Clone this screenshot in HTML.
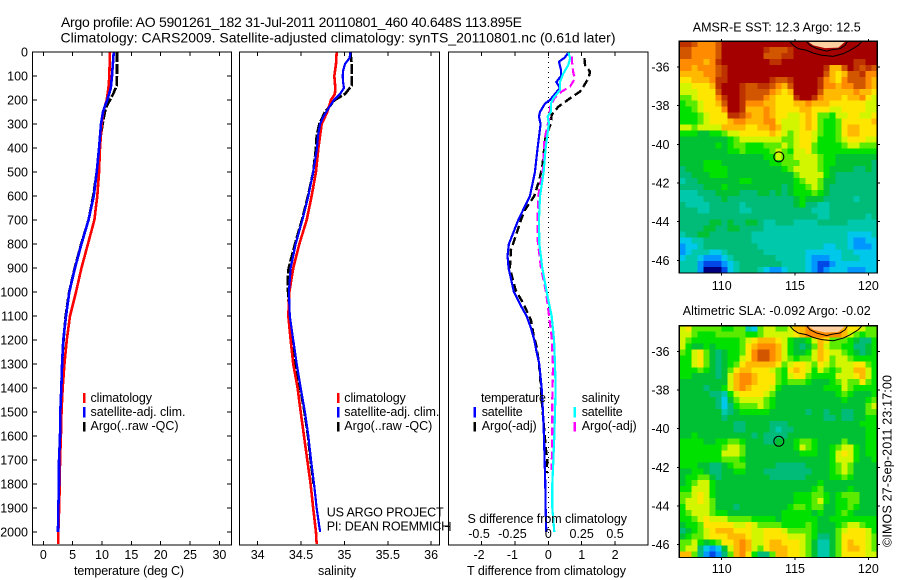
<!DOCTYPE html>
<html>
<head>
<meta charset="utf-8">
<title>Argo profile</title>
<style>
html,body{margin:0;padding:0;background:#fff;}
svg{display:block;}
text{font-family:"Liberation Sans",sans-serif;font-size:12.5px;fill:#000;}
.ttl{font-size:14px;}
</style>
</head>
<body>
<svg id="chart" xmlns="http://www.w3.org/2000/svg" width="900" height="580" viewBox="0 0 900 580">
<rect x="0" y="0" width="900" height="580" fill="#fff"/>
<text class="ttl" x="61" y="27" textLength="461" lengthAdjust="spacing">Argo profile: AO 5901261_182 31-Jul-2011 20110801_460 40.648S 113.895E</text>
<text class="ttl" x="60.5" y="42.5" textLength="555" lengthAdjust="spacing">Climatology: CARS2009. Satellite-adjusted climatology: synTS_20110801.nc (0.61d later)</text>

<g id="mapLayer"></g>
<g id="panelLayer"></g>

<text x="74" y="575" textLength="110" lengthAdjust="spacing">temperature (deg C)</text>
<text x="318" y="575" textLength="38" lengthAdjust="spacing">salinity</text>
<text x="467" y="575" textLength="159" lengthAdjust="spacing">T difference from climatology</text>
<text x="467.5" y="523" textLength="159.5" lengthAdjust="spacing">S difference from climatology</text>

<rect x="83" y="393" width="2.5" height="10" fill="#f00"/>
<rect x="83" y="407" width="2.5" height="10.5" fill="#00f"/>
<rect x="83" y="422" width="2.5" height="9.5" fill="#000"/>
<text x="90.5" y="402" textLength="61.5" lengthAdjust="spacing">climatology</text>
<text x="90.5" y="416" textLength="95" lengthAdjust="spacing">satellite-adj. clim.</text>
<text x="90.5" y="430" textLength="88" lengthAdjust="spacing">Argo(..raw -QC)</text>

<rect x="337" y="393" width="2.5" height="10" fill="#f00"/>
<rect x="337" y="407" width="2.5" height="10.5" fill="#00f"/>
<rect x="337" y="422" width="2.5" height="9.5" fill="#000"/>
<text x="344.3" y="402" textLength="61.5" lengthAdjust="spacing">climatology</text>
<text x="344.3" y="416" textLength="95" lengthAdjust="spacing">satellite-adj. clim.</text>
<text x="344.3" y="430" textLength="88" lengthAdjust="spacing">Argo(..raw -QC)</text>

<text x="481" y="402" textLength="65" lengthAdjust="spacing">temperature</text>
<rect x="473.5" y="407" width="2.5" height="10.5" fill="#00f"/>
<rect x="473.5" y="422" width="2.5" height="9.5" fill="#000"/>
<text x="481.7" y="416" textLength="41" lengthAdjust="spacing">satellite</text>
<text x="481.7" y="430" textLength="55" lengthAdjust="spacing">Argo(-adj)</text>
<text x="581.7" y="402" textLength="38" lengthAdjust="spacing">salinity</text>
<rect x="573.5" y="407" width="2.5" height="10.5" fill="#0ff"/>
<rect x="573.5" y="422" width="2.5" height="9.5" fill="#f0f"/>
<text x="581.7" y="416" textLength="41" lengthAdjust="spacing">satellite</text>
<text x="581.7" y="430" textLength="55" lengthAdjust="spacing">Argo(-adj)</text>

<text x="326.7" y="516.7" textLength="117" lengthAdjust="spacing">US ARGO PROJECT</text>
<text x="326.7" y="530.7" textLength="123.5" lengthAdjust="spacing">PI: DEAN ROEMMICH</text>

<text x="692.7" y="31.7" textLength="168" lengthAdjust="spacing">AMSR-E SST: 12.3 Argo: 12.5</text>
<text x="682.7" y="315" textLength="188" lengthAdjust="spacing">Altimetric SLA: -0.092 Argo: -0.02</text>
<text transform="translate(891.7 547) rotate(-90)" x="0" y="0" textLength="172" lengthAdjust="spacing">©IMOS 27-Sep-2011 23:17:00</text>
</svg>

<script>
// ---------- profile data (depth in metres, temperature in deg C, salinity in psu) ----------
var tempTicks = [0,5,10,15,20,25,30];
var salTicks = [34,34.5,35,35.5,36];
var depthTicks = [0,100,200,300,400,500,600,700,800,900,1000,1100,1200,1300,1400,1500,1600,1700,1800,1900,2000];
var diffTTicks = [-2,-1,0,1,2];
var diffSTickLabels = ['-0.5','-0.25','0','0.25','0.5'];
var diffSTicks = [-0.5,-0.25,0,0.25,0.5];

var climTempDepths = [0,50,100,150,200,250,300,400,500,600,700,800,900,1000,1100,1200,1300,1400,1500,1600,1700,1800,1900,2000,2050];
var climTemp = [11.36,11.3,11.25,11.1,10.8,10.2,9.95,9.66,9.5,9.2,8.7,7.6,6.5,5.57,4.55,4.0,3.6,3.3,3.1,3.0,2.85,2.8,2.7,2.56,2.56];
var satTempDepths = [0,50,100,150,200,225,250,300,400,500,600,700,800,900,1000,1100,1200,1300,1400,1500,1600,1700,1800,1900,2000];
var satTemp = [12.0,11.85,11.7,11.5,10.9,10.5,10.17,9.83,9.5,9.1,8.6,7.7,6.5,5.4,4.43,3.87,3.4,3.2,3.07,2.9,2.85,2.68,2.68,2.56,2.5];
var argoTempDepths = [0,50,100,140,175,200,225,250,300,400,500,600,700,800,900,1000,1100,1200,1300,1400,1500,1600];
var argoTemp = [12.55,12.55,12.55,12.5,11.9,11.36,10.8,10.5,10.1,9.5,9.1,8.5,7.7,6.45,5.35,4.4,3.8,3.45,3.2,3.05,2.95,2.87];

var climSalDepths = [0,50,100,150,175,200,250,300,400,500,600,700,800,900,1000,1100,1200,1300,1400,1500,1600,1700,1800,1900,2000,2050];
var climSal = [34.911,34.903,34.884,34.895,34.89,34.845,34.803,34.738,34.70,34.672,34.622,34.565,34.48,34.41,34.365,34.353,34.38,34.41,34.46,34.496,34.534,34.572,34.61,34.64,34.672,34.68];
var satSalDepths = [0,25,50,75,100,125,150,175,200,225,250,275,300,350,400,500,600,700,800,900,1000,1100,1200,1300,1400,1500,1600,1700,1800,1900,2000];
var satSal = [35.07,35.06,35.007,34.987,34.98,34.985,34.995,34.95,34.88,34.834,34.79,34.75,34.72,34.695,34.684,34.64,34.584,34.515,34.438,34.38,34.36,34.37,34.41,34.45,34.496,34.545,34.584,34.615,34.65,34.68,34.72];
var argoSalDepths = [0,50,100,140,175,200,250,300,350,400,500,600,700,800,900,950,1000,1100,1200,1300,1400,1500,1600,1700,1800];
var argoSal = [35.07,35.084,35.087,35.084,35.007,34.89,34.776,34.71,34.68,34.672,34.64,34.58,34.51,34.43,34.357,34.345,34.35,34.365,34.40,34.44,34.49,34.54,34.58,34.61,34.645];

var diffSatTDepths = [0,25,40,75,100,125,150,175,200,215,250,270,300,400,500,600,700,800,850,900,1000,1050,1100,1150,1200,1250,1300,1400,1500,1600,1700,1800,1900,2000];
var diffSatT = [0.62,0.48,0.32,0.38,0.38,0.24,0.35,0.20,0.05,-0.10,-0.25,-0.28,-0.23,-0.32,-0.40,-0.55,-0.90,-1.18,-1.22,-1.19,-1.03,-0.85,-0.65,-0.52,-0.42,-0.35,-0.27,-0.20,-0.16,-0.13,-0.11,-0.09,-0.08,-0.06];
var diffArgoTDepths = [26,54,82,110,144,165,193,228,262,297,353,400,478,533,600,658,700,769,825,900,950,992,1047,1117,1172,1228,1297,1381,1464,1561,1644,1700,1755];
var diffArgoT = [1.08,1.10,1.25,1.20,1.05,0.95,0.65,0.30,0.10,0.08,-0.08,-0.12,-0.18,-0.27,-0.42,-0.70,-0.82,-0.98,-1.12,-1.15,-1.06,-0.98,-0.75,-0.52,-0.45,-0.35,-0.28,-0.23,-0.19,-0.13,-0.08,-0.03,-0.05];
var diffSatSDepths = [0,26,54,89,124,158,193,214,249,269,297,400,500,600,700,800,900,1000,1047,1100,1200,1300,1400,1500,1600,1700,1800,1900,2000];
var diffSatS = [0.150,0.163,0.150,0.113,0.088,0.088,0.038,0.020,0.020,-0.005,0.005,-0.020,-0.035,-0.062,-0.070,-0.067,-0.045,-0.012,0.005,0.025,0.043,0.050,0.055,0.050,0.045,0.038,0.030,0.030,0.045];
var diffArgoSDepths = [19,54,89,110,144,165,193,228,269,367,478,600,700,783,900,1000,1186,1311,1450,1589,1742];
var diffArgoS = [0.175,0.18,0.188,0.20,0.163,0.10,0.045,0.013,0.010,-0.03,-0.037,-0.075,-0.08,-0.08,-0.055,-0.017,0.025,0.035,0.03,0.03,0.025];

// ---------- map data: colour-class grids (0 = coldest / lowest, 15 = warmest / highest) ----------
var sstGrid = [
[14,14,13,12,12,12,13,15,15,15,15,15,15,15,15,15,15,15,15,15,15,15,15,15,15,15,15,15,15,15,15,15,15],
[13,13,12,12,12,12,13,15,15,15,15,15,15,15,14,13,13,13,14,15,15,15,15,15,15,15,15,15,15,15,15,15,15],
[13,13,12,12,12,12,13,15,15,15,15,15,15,15,13,13,13,14,14,15,15,15,15,15,15,15,15,15,15,15,15,15,15],
[12,12,12,12,11,12,14,15,15,15,15,15,15,15,15,14,14,15,15,15,15,15,15,15,15,15,15,15,15,14,14,15,15],
[12,12,11,12,12,12,13,14,15,15,15,15,15,15,15,15,15,15,15,15,15,15,15,15,14,11,11,13,15,14,13,14,13],
[11,11,11,11,12,12,13,14,15,15,15,15,15,15,15,15,15,15,15,15,15,15,15,15,13,11,10,11,13,13,14,12,12],
[10,10,11,11,11,12,14,14,15,15,15,15,15,15,15,14,13,13,14,15,15,15,15,14,12,11,10,12,13,13,13,12,11],
[9,9,10,10,10,11,14,15,15,15,14,13,13,14,14,13,12,11,13,15,15,15,15,14,12,12,11,12,12,13,13,12,11],
[9,9,9,10,10,10,13,15,15,15,14,13,13,13,13,12,11,10,11,15,15,15,15,13,11,11,11,11,11,12,11,11,10],
[8,8,9,10,10,10,12,14,15,15,14,13,13,13,12,11,10,10,10,14,15,15,14,12,11,11,11,10,11,11,12,10,9],
[7,8,8,9,10,10,11,13,15,15,14,12,12,12,11,11,10,10,10,11,11,12,11,11,11,10,10,10,10,10,10,9,9],
[7,7,8,9,10,10,10,12,15,15,14,11,11,11,12,11,10,10,10,10,11,11,10,10,10,9,9,10,10,10,10,9,9],
[7,7,7,8,9,10,10,10,14,14,13,12,11,11,12,11,10,10,9,9,10,11,10,8,8,7,9,9,10,10,9,9,10],
[7,7,7,8,9,10,10,10,11,12,12,11,11,11,12,12,10,9,9,9,10,11,10,8,7,7,8,10,10,10,10,10,11],
[9,9,8,9,9,9,9,11,11,11,11,10,10,11,11,12,11,9,9,9,10,11,10,8,7,7,8,10,11,11,10,10,10],
[7,7,7,6,6,7,7,8,9,9,10,10,10,10,10,11,10,9,8,9,10,10,9,8,7,7,8,10,11,11,10,10,10],
[6,6,6,6,6,6,6,6,7,8,9,9,9,9,9,9,9,8,8,9,10,10,9,7,7,7,8,9,10,10,10,9,9],
[6,6,6,6,6,6,7,6,7,8,8,7,7,7,8,8,8,9,8,9,10,10,8,7,7,7,7,8,9,9,8,8,8],
[6,6,6,6,6,6,6,6,7,7,8,7,7,7,7,8,9,8,7,9,9,10,8,7,7,7,7,7,7,7,7,7,7],
[6,6,6,6,6,6,6,6,6,6,6,6,6,6,7,7,9,8,8,9,9,9,9,8,7,7,6,6,6,6,6,6,6],
[6,6,6,6,7,7,7,6,6,6,6,6,6,6,6,7,7,8,8,8,9,9,9,8,7,7,6,6,6,6,6,6,5],
[5,6,6,6,7,7,7,7,6,6,6,6,6,6,6,6,6,7,8,9,9,9,9,8,7,6,6,6,6,5,5,6,5],
[5,5,6,6,6,7,7,7,6,6,6,6,6,6,6,6,6,6,6,8,9,9,9,9,7,6,5,5,5,5,5,5,5],
[4,5,5,6,6,6,6,6,6,6,7,7,6,6,6,6,6,6,6,7,8,9,9,8,6,6,5,5,5,5,5,5,5],
[5,5,5,5,6,6,6,7,6,6,6,6,6,6,6,6,6,5,6,7,7,8,9,8,6,5,5,5,5,5,5,5,5],
[4,4,4,5,5,5,6,6,6,6,5,5,5,6,6,5,6,5,6,7,7,7,8,7,6,5,5,5,5,5,5,5,5],
[4,4,4,4,5,5,5,6,5,5,5,5,5,5,5,5,5,5,5,6,7,6,6,6,5,5,5,5,5,4,5,5,5],
[5,4,4,4,4,5,5,5,5,5,4,5,5,5,5,5,5,5,5,6,7,5,5,4,4,5,5,5,5,5,5,5,5],
[5,5,5,4,4,5,5,5,5,5,4,4,5,5,5,5,5,5,5,5,5,5,4,4,4,5,5,5,5,5,5,5,5],
[5,5,5,5,5,5,5,5,5,5,5,5,5,5,5,5,5,5,5,5,5,5,5,4,4,5,5,5,5,5,5,4,5],
[5,5,5,5,5,6,6,5,6,5,5,6,6,5,4,4,5,5,5,4,4,4,4,5,5,5,5,5,4,4,4,4,4],
[5,5,5,5,6,6,5,5,6,6,5,5,5,5,4,4,4,4,4,4,4,4,4,4,4,4,4,4,4,4,4,4,4],
[4,5,5,6,6,5,5,5,5,5,5,5,4,4,4,4,4,4,4,4,4,4,4,4,4,4,4,4,3,3,3,3,4],
[3,3,4,4,5,5,5,5,5,5,5,5,4,4,4,4,4,4,4,4,4,4,4,4,4,4,4,4,3,2,2,3,3],
[2,3,3,4,5,5,5,5,5,5,5,5,5,4,4,4,4,4,4,4,4,4,4,4,3,3,4,4,3,2,2,2,3],
[2,3,4,4,4,3,3,4,5,5,5,5,5,5,4,4,4,4,4,4,4,3,3,3,3,3,3,4,4,3,3,3,3],
[3,4,4,3,2,2,2,3,4,5,5,5,5,5,5,5,4,4,4,4,4,3,2,2,2,3,3,4,4,4,3,3,3],
[4,4,4,2,1,1,1,2,3,4,5,5,5,5,5,5,5,4,4,4,4,3,2,1,1,2,3,3,3,3,3,3,3],
[4,4,4,2,0,0,0,1,3,4,5,5,5,4,3,2,2,3,4,4,4,3,2,1,2,3,3,3,2,2,2,3,3]
];
var slaGrid = [
[9,10,8,8,8,8,8,7,7,8,8,4,3,8,9,9,8,8,9,11,11,12,12,12,12,12,12,11,10,10,9,8,8],
[9,9,8,7,7,7,8,8,8,8,8,7,7,8,9,9,9,9,9,10,11,12,12,12,12,12,12,11,9,8,7,8,8],
[9,8,7,7,7,7,7,7,7,7,8,9,10,11,11,11,10,9,7,6,6,7,9,11,10,8,8,8,7,6,5,5,7],
[9,7,6,6,7,6,7,7,7,7,8,10,11,12,12,12,11,9,7,6,5,6,8,11,9,8,8,7,7,5,5,6,7],
[8,7,9,10,8,6,5,6,7,7,8,10,12,13,13,12,11,9,7,6,6,7,9,11,10,9,9,8,7,6,5,6,7],
[7,7,9,10,8,6,5,6,7,7,9,10,12,13,13,12,11,9,8,7,8,8,9,11,10,8,9,9,8,7,7,7,7],
[7,7,9,10,8,6,5,6,7,8,10,11,11,11,11,11,10,8,9,10,10,9,8,10,9,8,9,9,9,10,10,8,7],
[7,7,7,8,7,6,5,6,8,10,11,11,10,10,10,9,8,7,10,11,10,9,7,9,8,7,8,9,9,11,11,9,7],
[7,7,6,6,6,6,5,6,9,11,12,12,11,10,10,10,8,7,9,10,10,8,7,7,7,7,9,9,9,10,11,9,7],
[6,6,6,6,6,6,6,6,9,11,12,12,11,10,10,10,8,7,8,8,8,7,6,6,6,7,8,9,8,8,10,8,7],
[6,6,6,6,5,6,6,7,9,11,12,11,10,10,10,9,7,6,6,6,6,6,6,6,7,7,7,9,8,7,7,7,7],
[6,6,6,6,6,5,5,4,7,9,10,10,10,10,9,8,6,6,6,6,6,6,6,6,6,6,7,8,7,6,6,6,7],
[6,6,6,6,6,6,5,3,6,8,9,9,9,9,8,7,6,6,6,6,6,6,6,6,6,6,6,7,6,6,6,7,8],
[6,6,6,6,6,6,5,3,5,7,8,8,8,9,8,7,6,6,6,6,6,6,6,6,6,6,6,6,6,6,6,8,9],
[6,6,6,6,6,6,6,4,5,6,7,7,7,7,7,6,6,6,6,6,6,5,6,6,5,6,6,5,5,6,6,8,8],
[6,6,6,6,6,6,6,5,6,6,6,6,6,6,6,6,6,6,6,6,6,6,6,6,5,5,6,5,5,6,6,7,7],
[6,6,6,6,6,6,6,6,6,5,5,6,6,6,6,5,5,5,6,6,6,6,6,6,6,6,6,6,6,6,7,7,7],
[6,6,6,6,6,6,6,6,6,5,5,6,6,6,6,5,4,5,5,6,6,6,6,6,6,6,6,6,6,6,6,7,7],
[6,6,7,6,6,6,6,6,6,6,6,6,5,6,5,5,5,5,6,6,6,6,6,6,6,6,6,6,6,6,6,7,7],
[7,7,7,7,6,6,7,7,8,8,7,6,6,6,5,5,6,6,6,7,8,8,7,6,6,6,6,8,6,6,6,7,7],
[7,7,7,7,7,7,7,8,9,9,8,6,6,6,6,6,6,6,6,7,9,8,7,6,6,7,8,9,9,7,6,7,7],
[7,7,7,7,7,7,7,9,9,9,8,6,6,6,6,6,6,6,6,6,7,7,7,6,6,7,9,10,9,7,6,7,7],
[7,7,7,7,7,7,7,8,8,8,7,6,6,6,6,6,6,6,6,6,6,6,6,6,6,7,9,9,9,7,6,6,7],
[7,7,7,6,6,5,5,6,7,8,8,6,6,6,6,6,5,5,5,5,5,6,6,6,6,7,8,9,8,6,6,6,6],
[6,6,7,7,6,5,5,6,6,7,7,6,6,6,5,5,5,5,5,5,5,5,6,6,6,7,8,9,8,6,6,6,6],
[6,7,7,8,8,6,5,6,6,6,6,6,6,6,6,5,5,5,5,5,5,6,6,6,6,7,7,8,7,6,6,6,6],
[6,7,8,9,9,7,6,6,6,6,6,6,6,6,6,6,6,6,6,6,6,6,6,7,6,6,6,6,6,6,6,6,6],
[7,7,9,9,9,7,6,6,6,6,6,6,6,6,6,6,6,6,6,6,6,6,7,8,6,6,6,6,7,6,6,6,6],
[8,8,9,10,9,7,6,6,6,6,6,6,6,6,6,6,6,6,6,7,7,7,8,8,7,6,7,8,8,8,6,6,6],
[8,9,9,10,9,8,6,6,6,6,6,6,6,6,6,6,6,6,6,7,7,7,8,9,7,6,7,7,8,8,6,6,6],
[7,9,9,9,9,8,6,6,6,5,6,6,6,6,6,6,6,6,7,8,8,7,8,8,6,6,7,7,8,7,6,6,6],
[7,8,9,9,9,8,7,7,6,6,6,6,6,6,6,6,6,7,7,7,7,7,6,7,6,6,7,8,7,6,6,6,6],
[7,7,8,9,10,9,9,9,8,8,8,8,7,7,7,7,6,7,7,7,7,7,7,6,6,7,7,7,7,7,7,7,7],
[6,7,7,8,10,10,10,10,10,9,9,10,9,8,8,8,8,7,7,7,7,8,7,6,6,6,7,8,9,9,8,7,7],
[5,6,7,8,9,10,11,11,11,10,10,10,9,9,10,10,10,9,8,8,8,8,7,6,6,6,8,9,10,10,10,9,7],
[6,7,8,8,9,10,10,10,11,11,11,10,9,9,10,10,10,10,9,9,9,8,7,5,5,6,8,10,10,10,10,9,8],
[8,8,9,7,6,7,8,10,10,11,12,11,9,9,10,11,11,10,10,10,9,8,6,4,4,6,8,10,11,10,10,9,8],
[8,9,9,5,3,2,3,6,9,11,12,11,9,8,10,11,11,11,10,10,9,8,6,4,4,6,8,10,11,11,10,9,8],
[11,11,8,5,2,1,2,5,8,11,12,10,7,5,5,8,11,11,10,10,9,8,6,4,4,6,8,10,10,10,10,9,9]
];
var lonTicks = [110,115,120];
var latTicks = [-36,-38,-40,-42,-44,-46];
var floatLon = [113.895];
var floatLat = [-40.648];
var landLon = [115.9,116.25,117.04,117.95,118.34,118.41];
var landLat = [-34.69,-34.88,-35.02,-35.0,-34.74,-34.69];
var contourOuterLon = [114.66,114.88,115.22,115.80,116.25,116.82,117.61,118.29,118.75,119.31,119.55];
var contourOuterLat = [-34.69,-34.88,-35.05,-35.14,-35.28,-35.39,-35.45,-35.31,-35.14,-34.88,-34.69];
var contourInnerLon = [115.80,116.02,116.48,117.16,117.50,118.07,118.41,118.57];
var contourInnerLat = [-34.69,-34.88,-35.05,-35.18,-35.11,-35.05,-34.88,-34.69];

// ---------- styling / layout ----------
var levelColors = ['#00007f','#0048e6','#0096ff','#00c8eb','#00c8aa','#00bc78','#00c034','#00e100','#5aeb00','#d2f500','#ffe600','#ffb900','#ff8c00','#d25500','#be3200','#a50000'];
var NS = 'http://www.w3.org/2000/svg';
var panelLayer = document.getElementById('panelLayer');
var mapLayer = document.getElementById('mapLayer');
var TOP = 52, BOTTOM = 545;
var yDepth = function(d){ return TOP + d * 0.24; };
var xTemp = function(v){ return 43.3 + v * 5.87; };
var xSal = function(v){ return 257.7 + (v - 34) * 86.7; };
var xDiffT = function(v){ return 548.3 + v * 33.4; };
var xDiffS = function(v){ return 548.3 + v * 133.5; };

function mk(tag, parent){
  var e = document.createElementNS(NS, tag);
  parent.appendChild(e);
  return e;
}
function setAll(e, o){ for (var k in o) e.setAttribute(k, o[k]); return e; }
function tickLine(parent, x1, y1, x2, y2){
  var l = mk('line', parent);
  setAll(l, {x1:x1, y1:y1, x2:x2, y2:y2, stroke:'#000', 'stroke-width':1, 'shape-rendering':'crispEdges'});
  return l;
}
function label(parent, x, y, str, anchor){
  var t = mk('text', parent);
  setAll(t, {x:x, y:y, 'text-anchor':anchor || 'middle'});
  t.textContent = str;
  return t;
}
function profile(parent, xs, ds, xf, color, w, dash){
  var pts = [];
  for (var i = 0; i < xs.length; i++) pts.push(xf(xs[i]).toFixed(2) + ',' + yDepth(ds[i]).toFixed(2));
  var p = mk('polyline', parent);
  setAll(p, {points:pts.join(' '), fill:'none', stroke:color, 'stroke-width':w, 'stroke-linejoin':'round', 'shape-rendering':'crispEdges'});
  if (dash) p.setAttribute('stroke-dasharray', dash);
  return p;
}
function frame(parent, x, y, w, h){
  var r = mk('rect', parent);
  setAll(r, {x:x, y:y, width:w, height:h, fill:'none', stroke:'#000', 'stroke-width':1.3, 'shape-rendering':'crispEdges'});
  return r;
}

// ---------- temperature panel ----------
var gT = mk('g', panelLayer);


var line;
line = profile(gT, argoTemp, argoTempDepths, xTemp, '#000', 2.6, '10,2');


line = profile(gT, climTemp, climTempDepths, xTemp, '#f00', 2.6);


line = profile(gT, satTemp, satTempDepths, xTemp, '#00f', 2.6);


var box = frame(gT, 32.5, TOP, 199, BOTTOM - TOP);


tempTicks.forEach(function(v){
  var a = tickLine(gT, xTemp(v), TOP, xTemp(v), TOP + 4);
  
  
  var b = tickLine(gT, xTemp(v), BOTTOM, xTemp(v), BOTTOM - 4);
  
  
  var t = label(gT, xTemp(v), 559, String(v));
  
  
});
depthTicks.forEach(function(d){
  var a = tickLine(gT, 32.5, yDepth(d), 37, yDepth(d));
  
  
  var b = tickLine(gT, 231.5, yDepth(d), 227, yDepth(d));
  
  
  var t = label(gT, 28, yDepth(d) + 4.5, String(d), 'end');
  
  
});

// ---------- salinity panel ----------
var gS = mk('g', panelLayer);


line = profile(gS, argoSal, argoSalDepths, xSal, '#000', 2.6, '10,2');


line = profile(gS, climSal, climSalDepths, xSal, '#f00', 2.6);


line = profile(gS, satSal, satSalDepths, xSal, '#00f', 2.2);


box = frame(gS, 239.5, TOP, 200, BOTTOM - TOP);


salTicks.forEach(function(v){
  var a = tickLine(gS, xSal(v), TOP, xSal(v), TOP + 4);
  
  
  var b = tickLine(gS, xSal(v), BOTTOM, xSal(v), BOTTOM - 4);
  
  
  var t = label(gS, xSal(v), 559, String(v));
  
  
});

// ---------- difference panel ----------
var gD = mk('g', panelLayer);


var zero = mk('line', gD);
setAll(zero, {x1:xDiffT(0), y1:TOP, x2:xDiffT(0), y2:BOTTOM, stroke:'#000', 'stroke-width':1, 'stroke-dasharray':'1,4', 'shape-rendering':'crispEdges'});


line = profile(gD, diffArgoT, diffArgoTDepths, xDiffT, '#000', 2.4, '8,4');


line = profile(gD, diffSatT, diffSatTDepths, xDiffT, '#00f', 2.2);


line = profile(gD, diffArgoS, diffArgoSDepths, xDiffS, '#f0f', 2.2, '8,4');


line = profile(gD, diffSatS, diffSatSDepths, xDiffS, '#0ff', 2.2);


box = frame(gD, 448.5, TOP, 199.5, BOTTOM - TOP);


diffTTicks.forEach(function(v){
  var a = tickLine(gD, xDiffT(v), TOP, xDiffT(v), TOP + 4);
  
  
  var b = tickLine(gD, xDiffT(v), BOTTOM, xDiffT(v), BOTTOM - 4);
  
  
  var t = label(gD, xDiffT(v) - (v < 0 ? 2.5 : 0), 559, String(v));
  
  
});
diffSTicks.forEach(function(v, i){
  var t = label(gD, xDiffS(v) - (v < 0 ? 2.5 : 0), 538, diffSTickLabels[i]);
  
  
});
var errH = tickLine(gD, 445, 526.7, 450, 526.7);


var errV = tickLine(gD, 450, 522, 450, 531);



// ---------- maps ----------
var LON0 = 107.11, LON1 = 120.61, LAT0 = -34.67, LAT1 = -46.66;
var xLon = function(v){ return 679.3 + (v - LON0) * 14.667; };
function yLatFor(top){ return function(v){ return top + (LAT0 - v) * 19.33; }; }

function ptsOf(lons, lats, xf, yf){
  var pts = [];
  for (var i = 0; i < lons.length; i++) pts.push(xf(lons[i]).toFixed(2) + ',' + yf(lats[i]).toFixed(2));
  return pts.join(' ');
}
function drawMap(grid, top, labelBaseline, prefix){
  var yLat = yLatFor(top);
  var g = mk('g', mapLayer);
  
  
  var rows = grid.length, cols = grid[0].length;
  var dLon = (LON1 - LON0) / cols, dLat = (LAT0 - LAT1) / rows;
  for (var r = 0; r < rows; r++) {
    for (var c = 0; c < cols; c++) {
      var cell = mk('rect', g);
      var x0 = xLon(LON0 + c * dLon), x1 = xLon(LON0 + (c + 1) * dLon);
      var y0 = yLat(LAT0 - r * dLat), y1 = yLat(LAT0 - (r + 1) * dLat);
      setAll(cell, {x:x0.toFixed(2), y:y0.toFixed(2), width:(x1 - x0 + 0.4).toFixed(2), height:(y1 - y0 + 0.4).toFixed(2), fill:levelColors[grid[r][c]], 'shape-rendering':'crispEdges'});
      
      
    }
  }
  var land = mk('polygon', g);
  setAll(land, {points:ptsOf(landLon, landLat, xLon, yLat), fill:'#ffcfa0', stroke:'none'});
  
  
  var c1 = mk('polyline', g);
  setAll(c1, {points:ptsOf(contourOuterLon, contourOuterLat, xLon, yLat), fill:'none', stroke:'#000', 'stroke-width':1});
  
  
  var c2 = mk('polyline', g);
  setAll(c2, {points:ptsOf(contourInnerLon, contourInnerLat, xLon, yLat), fill:'none', stroke:'#000', 'stroke-width':1});
  
  
  var m = mk('circle', g);
  setAll(m, {cx:xLon(floatLon[0]).toFixed(2), cy:yLat(floatLat[0]).toFixed(2), r:5, fill:'none', stroke:'#000', 'stroke-width':1});
  
  
  var b = frame(g, xLon(LON0), top, xLon(LON1) - xLon(LON0), yLat(LAT1) - top);
  
  
  lonTicks.forEach(function(v){
    var a = tickLine(g, xLon(v), top, xLon(v), top - 2.5);
    
    
    var bt = tickLine(g, xLon(v), yLat(LAT1), xLon(v), yLat(LAT1) + 2.5);
    
    
    var t = label(g, xLon(v), labelBaseline, String(v));
    
    
  });
  latTicks.forEach(function(v){
    var a = tickLine(g, xLon(LON0), yLat(v), xLon(LON0) - 2.5, yLat(v));
    
    
    var br = tickLine(g, xLon(LON1), yLat(v), xLon(LON1) + 2.5, yLat(v));
    
    
    var t = label(g, 669.5, yLat(v) + 4.5, String(v), 'end');
    
    
  });
}
drawMap(sstGrid, 41.3, 290, 'sst');
drawMap(slaGrid, 325.7, 573, 'sla');
</script>
</body>
</html>
